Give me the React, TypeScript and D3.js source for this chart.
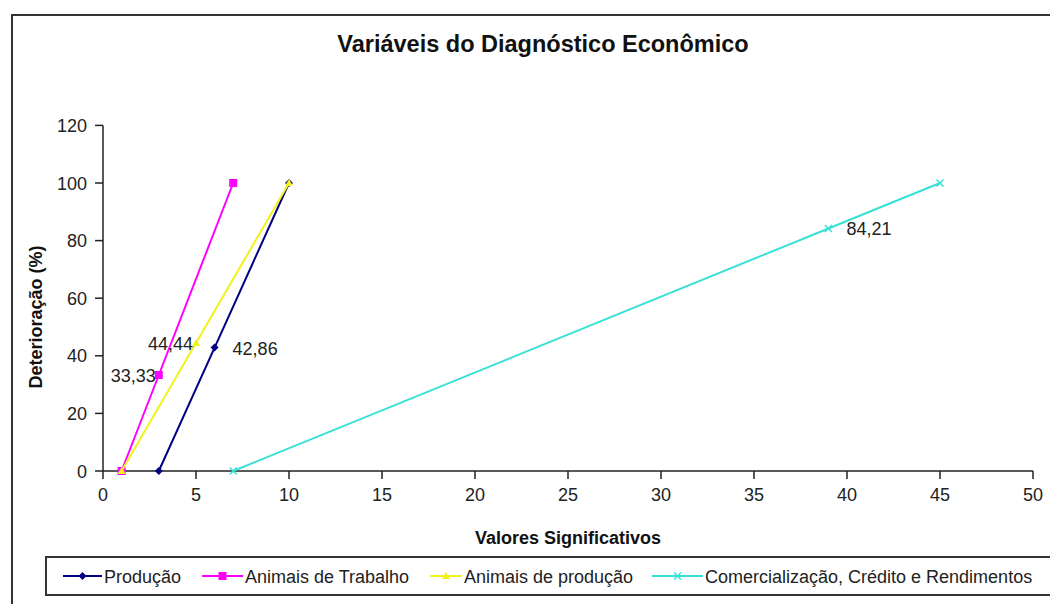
import React from "react";
import * as d3 from "d3";

// chart values
const producaoX = [3, 6, 10];
const producaoY = [0, 42.86, 100];
const trabalhoX = [1, 3, 7];
const trabalhoY = [0, 33.33, 100];
const animaisProdX = [1, 5, 10];
const animaisProdY = [0, 44.44, 100];
const comercialX = [7, 39, 45];
const comercialY = [0, 84.21, 100];

const seriesNames = [
  "Produção",
  "Animais de Trabalho",
  "Animais de produção",
  "Comercialização, Crédito e Rendimentos",
];
// index of the point that carries a data label, and which side it sits on
const labelIndex = [1, 1, 1, 1];
const labelSide = ["right", "left", "left", "right"];

const xTicks = [0, 5, 10, 15, 20, 25, 30, 35, 40, 45, 50];
const yTicks = [0, 20, 40, 60, 80, 100, 120];

const title = "Variáveis do Diagnóstico Econômico";
const xTitle = "Valores Significativos";
const yTitle = "Deterioração  (%)";

const colors = ["#000080", "#ff00ff", "#f2f21a", "#36e0d6"];
const markers = ["diamond", "square", "triangle", "x"];

const W = 1050;
const H = 604;
const font = "'Liberation Sans', Arial, sans-serif";

const fmt = (v: number) => v.toFixed(2).replace(".", ",");

function Marker({ kind, x, y, color }: { kind: string; x: number; y: number; color: string }) {
  if (kind === "diamond") {
    return <path d={`M${x},${y - 4}L${x + 4},${y}L${x},${y + 4}L${x - 4},${y}Z`} fill={color} />;
  }
  if (kind === "square") {
    return <rect x={x - 4} y={y - 4} width={8} height={8} fill={color} />;
  }
  if (kind === "triangle") {
    return <path d={`M${x},${y - 4}L${x + 4},${y + 3}L${x - 4},${y + 3}Z`} fill={color} />;
  }
  return (
    <path
      d={`M${x - 3.5},${y - 3.5}L${x + 3.5},${y + 3.5}M${x - 3.5},${y + 3.5}L${x + 3.5},${y - 3.5}`}
      stroke={color}
      strokeWidth={1.5}
    />
  );
}

export default function App() {
  const x = d3.scaleLinear().domain([0, 50]).range([103, 1033]);
  const y = d3.scaleLinear().domain([0, 120]).range([471, 125.4]);

  const series = [
    { xs: producaoX, ys: producaoY },
    { xs: trabalhoX, ys: trabalhoY },
    { xs: animaisProdX, ys: animaisProdY },
    { xs: comercialX, ys: comercialY },
  ].map((s, i) => ({
    name: seriesNames[i],
    color: colors[i],
    marker: markers[i],
    points: s.xs.map((v, j) => [v, s.ys[j]] as [number, number]),
  }));

  const line = d3
    .line<[number, number]>()
    .x((d) => x(d[0]))
    .y((d) => y(d[1]));

  // legend layout
  const legendX = [63, 202, 430, 652];
  const legendLen = [39, 41, 32, 51];
  const legendY = 576;

  return (
    <svg
      width={W}
      height={H}
      style={{ position: "absolute", left: 0, top: 0, background: "#fff" }}
      fontFamily={font}
    >
      <rect x={0} y={0} width={W} height={H} fill="#fff" />
      {/* outer chart frame, running off the right and bottom edges */}
      <rect x={12} y={15} width={1100} height={700} fill="none" stroke="#333" strokeWidth={2} />

      <text x={543} y={52} textAnchor="middle" fontSize={23.5} fontWeight="bold" fill="#111">
        {title}
      </text>

      {/* y axis */}
      <line x1={x(0)} x2={x(0)} y1={y(0)} y2={y(120)} stroke="#222" strokeWidth={1.5} />
      {yTicks.map((t) => (
        <g key={"y" + t}>
          <line x1={x(0) - 8} x2={x(0)} y1={y(t)} y2={y(t)} stroke="#222" strokeWidth={1.5} />
          <text x={87} y={y(t) + 6.5} textAnchor="end" fontSize={18} fill="#222">
            {t}
          </text>
        </g>
      ))}

      {/* x axis */}
      <line x1={x(0)} x2={x(50)} y1={y(0)} y2={y(0)} stroke="#222" strokeWidth={1.5} />
      {xTicks.map((t) => (
        <g key={"x" + t}>
          <line x1={x(t)} x2={x(t)} y1={y(0)} y2={y(0) + 8} stroke="#222" strokeWidth={1.5} />
          <text x={x(t)} y={501} textAnchor="middle" fontSize={18} fill="#222">
            {t}
          </text>
        </g>
      ))}

      <text x={568} y={544} textAnchor="middle" fontSize={18} fontWeight="bold" fill="#111">
        {xTitle}
      </text>
      <text
        transform={`translate(42,317) rotate(-90)`}
        textAnchor="middle"
        fontSize={18}
        fontWeight="bold"
        fill="#111"
      >
        {yTitle}
      </text>

      {/* series */}
      {series.map((s) => (
        <g key={s.name}>
          <path d={line(s.points) || ""} fill="none" stroke={s.color} strokeWidth={2} />
          {s.points.map((p, j) => (
            <Marker key={j} kind={s.marker} x={x(p[0])} y={y(p[1])} color={s.color} />
          ))}
        </g>
      ))}

      {/* data labels */}
      {series.map((s, i) => {
        const p = s.points[labelIndex[i]];
        const right = labelSide[i] === "right";
        return (
          <text
            key={"l" + i}
            x={x(p[0]) + (right ? 18 : -3)}
            y={y(p[1]) + 7}
            textAnchor={right ? "start" : "end"}
            fontSize={18}
            fill="#222"
          >
            {fmt(p[1])}
          </text>
        );
      })}

      {/* legend */}
      <rect x={46} y={557} width={1030} height={38} fill="#fff" stroke="#333" strokeWidth={2} />
      {series.map((s, i) => {
        const lx = legendX[i];
        const len = legendLen[i];
        return (
          <g key={"lg" + i}>
            <line x1={lx} x2={lx + len} y1={legendY} y2={legendY} stroke={s.color} strokeWidth={2} />
            <Marker kind={s.marker} x={lx + len / 2} y={legendY} color={s.color} />
            <text x={lx + len + 2} y={legendY + 6.5} fontSize={18} fill="#222">
              {s.name}
            </text>
          </g>
        );
      })}
    </svg>
  );
}
